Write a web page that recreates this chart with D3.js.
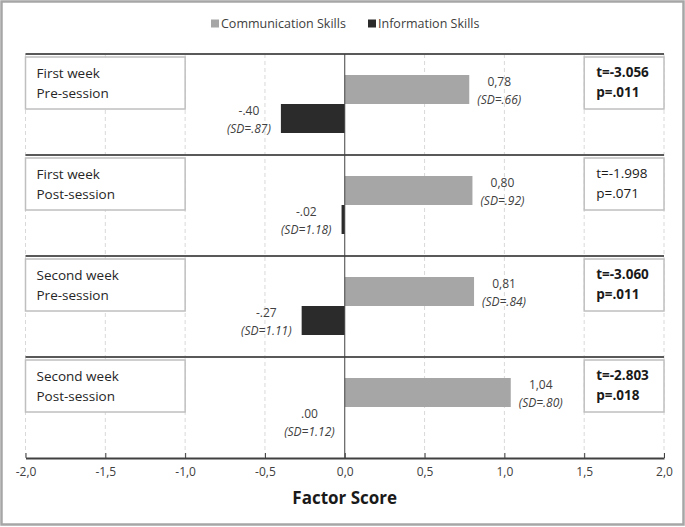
<!DOCTYPE html>
<html>
<head>
<meta charset="utf-8">
<script src="https://cdn.jsdelivr.net/npm/d3@7"></script>
<style>
  body { margin: 0; background: #fff; }
  text { font-family: "Open Sans", "Liberation Sans", sans-serif; }
</style>
</head>
<body>
<div id="chart"></div>
<script>

// session rows, top to bottom
var sessions = [
    ['First week', 'Pre-session'],
    ['First week', 'Post-session'],
    ['Second week', 'Pre-session'],
    ['Second week', 'Post-session']
];

var series = ['Communication Skills', 'Information Skills'];

var commMean = [0.78, 0.80, 0.81, 1.04];
var commSD   = [0.66, 0.92, 0.84, 0.80];
var infoMean = [-0.40, -0.02, -0.27, 0.00];
var infoSD   = [0.87, 1.18, 1.11, 1.12];

var tValues = [-3.056, -1.998, -3.060, -2.803];
var pValues = [0.011, 0.071, 0.011, 0.018];

var xTicks = [-2, -1.5, -1, -0.5, 0, 0.5, 1, 1.5, 2];

var width  = 685;
var height = 527;

var colors = {
    'Communication Skills': '#a6a6a6',
    'Information Skills'  : '#2b2b2b'
};

// plain hyphen minus, dot decimal
var dotLocale = d3.formatLocale({ decimal: '.', thousands: ',', grouping: [3], currency: ['', ''], minus: '-' });
var commaLocale = d3.formatLocale({ decimal: ',', thousands: '.', grouping: [3], currency: ['', ''], minus: '-' });

var svg = d3.select('#chart').append('svg')
    .attr('width', width)
    .attr('height', height);

// outer frame
svg.append('rect')
    .attr('x', 1.5).attr('y', 1.5)
    .attr('width', width - 3).attr('height', height - 4)
    .attr('fill', '#fff')
    .attr('stroke', '#a6a6a6')
    .attr('stroke-width', 2.5);

var x = d3.scaleLinear().domain([-2, 2]).range([25.5, 664]);

var rowKeys = sessions.map(function(d, i) { return i; });
var y = d3.scaleBand().domain(rowKeys).range([54, 458]);
var yInner = d3.scaleBand().domain(series).range([21, 79]);

function noLeadZero(v, digits) {
    return dotLocale.format('.' + (digits || 2) + 'f')(v).replace(/^(-?)0\./, '$1.');
}
function commaDec(v, digits) {
    return commaLocale.format('.' + (digits || 2) + 'f')(v);
}

// gridlines
svg.append('g').selectAll('line')
    .data(xTicks.filter(function(d) { return d !== 0; }))
    .enter().append('line')
    .attr('x1', function(d) { return x(d); })
    .attr('x2', function(d) { return x(d); })
    .attr('y1', 54)
    .attr('y2', 458)
    .attr('stroke', '#d9d9d9')
    .attr('stroke-width', 1)
    .attr('stroke-dasharray', '4,3');

// row separators
svg.append('g').selectAll('line')
    .data(rowKeys)
    .enter().append('line')
    .attr('x1', x(-2)).attr('x2', x(2))
    .attr('y1', function(d) { return y(d); })
    .attr('y2', function(d) { return y(d); })
    .attr('stroke', '#595959')
    .attr('stroke-width', 2);

// bars
var rows = svg.append('g').selectAll('g.row')
    .data(rowKeys)
    .enter().append('g')
    .attr('class', 'row')
    .attr('transform', function(d) { return 'translate(0,' + y(d) + ')'; });

var barData = function(i) {
    return [
        { s: series[0], v: commMean[i], sd: commSD[i], lab: commaDec(commMean[i]) },
        { s: series[1], v: infoMean[i], sd: infoSD[i], lab: noLeadZero(infoMean[i]) }
    ];
};

rows.selectAll('rect.bar')
    .data(function(i) { return barData(i); })
    .enter().append('rect')
    .attr('class', 'bar')
    .attr('x', function(d) { return x(Math.min(0, d.v)); })
    .attr('width', function(d) { return Math.abs(x(d.v) - x(0)); })
    .attr('y', function(d) { return yInner(d.s); })
    .attr('height', yInner.bandwidth())
    .attr('fill', function(d) { return colors[d.s]; });

// value labels
rows.selectAll('g.vlab')
    .data(function(i) { return barData(i); })
    .enter().append('g')
    .attr('class', 'vlab')
    .each(function(d) {
        var g = d3.select(this);
        var cy = yInner(d.s) + yInner.bandwidth() / 2;
        var t1 = g.append('text')
            .attr('y', cy - 8)
            .attr('dy', '0.35em')
            .attr('text-anchor', 'middle')
            .attr('font-size', 12)
            .attr('fill', '#404040')
            .text(d.lab);
        var t2 = g.append('text')
            .attr('y', cy + 10)
            .attr('dy', '0.35em')
            .attr('text-anchor', 'middle')
            .attr('font-size', 12)
            .attr('font-style', 'italic')
            .attr('fill', '#404040')
            .text('(SD=' + noLeadZero(d.sd) + ')');
        var w = Math.max(t1.node().getComputedTextLength(), t2.node().getComputedTextLength());
        var cx;
        if (d.s === series[0]) {
            cx = x(d.v) + 8 + w / 2;
        } else {
            cx = x(Math.min(0, d.v)) - 10 - w / 2;
        }
        t1.attr('x', cx);
        t2.attr('x', cx);
    });

// session label boxes
rows.append('rect')
    .attr('x', x(-2)).attr('y', 3)
    .attr('width', x(-1) - x(-2)).attr('height', 52)
    .attr('fill', '#fff')
    .attr('stroke', '#bfbfbf')
    .attr('stroke-width', 1.5);

rows.each(function(i) {
    var g = d3.select(this);
    sessions[i].forEach(function(line, k) {
        g.append('text')
            .attr('x', x(-2) + 11)
            .attr('y', 3 + 16 + k * 20)
            .attr('dy', '0.35em')
            .attr('font-size', 13.5)
            .attr('fill', '#262626')
            .text(line);
    });
});

// stats boxes
rows.append('rect')
    .attr('x', x(1.5)).attr('y', 3)
    .attr('width', x(2) - x(1.5)).attr('height', 52)
    .attr('fill', '#fff')
    .attr('stroke', '#bfbfbf')
    .attr('stroke-width', 1.5);

rows.each(function(i) {
    var g = d3.select(this);
    var lines = ['t=' + dotLocale.format('.3f')(tValues[i]), 'p=' + noLeadZero(pValues[i], 3)];
    lines.forEach(function(line, k) {
        g.append('text')
            .attr('x', x(1.5) + 12)
            .attr('y', 3 + 15 + k * 20)
            .attr('dy', '0.35em')
            .attr('font-size', 13.5)
            .attr('font-weight', pValues[i] < 0.05 ? 'bold' : 'normal')
            .attr('fill', '#1a1a1a')
            .text(line);
    });
});

// zero line
svg.append('line')
    .attr('x1', x(0)).attr('x2', x(0))
    .attr('y1', 54).attr('y2', 458)
    .attr('stroke', '#404040')
    .attr('stroke-width', 1);

// x axis
var xAxis = svg.append('g')
    .attr('transform', 'translate(0,458)')
    .call(d3.axisBottom(x)
        .tickValues(xTicks)
        .tickSizeInner(-5)
        .tickSizeOuter(0)
        .tickPadding(9)
        .tickFormat(function(d) { return commaDec(d, 1); }));

xAxis.select('.domain').attr('stroke', '#404040').attr('stroke-width', 2);
xAxis.selectAll('.tick line').attr('stroke', '#404040');
xAxis.selectAll('.tick text')
    .attr('font-family', '"Open Sans", sans-serif')
    .attr('font-size', 12)
    .attr('fill', '#404040');

svg.append('text')
    .attr('x', x(0))
    .attr('y', 498)
    .attr('dy', '0.35em')
    .attr('text-anchor', 'middle')
    .attr('font-size', 17)
    .attr('font-weight', 'bold')
    .attr('fill', '#1a1a1a')
    .text('Factor Score');

// legend
var legend = svg.append('g').attr('transform', 'translate(0,24)');
var legendX = [211, 368];
series.forEach(function(s, i) {
    legend.append('rect')
        .attr('x', legendX[i]).attr('y', -4.5)
        .attr('width', 8).attr('height', 8)
        .attr('fill', colors[s]);
    legend.append('text')
        .attr('x', legendX[i] + 10)
        .attr('y', 0)
        .attr('dy', '0.35em')
        .attr('font-size', 12.5)
        .attr('fill', '#404040')
        .text(s);
});

</script>
</body>
</html>
